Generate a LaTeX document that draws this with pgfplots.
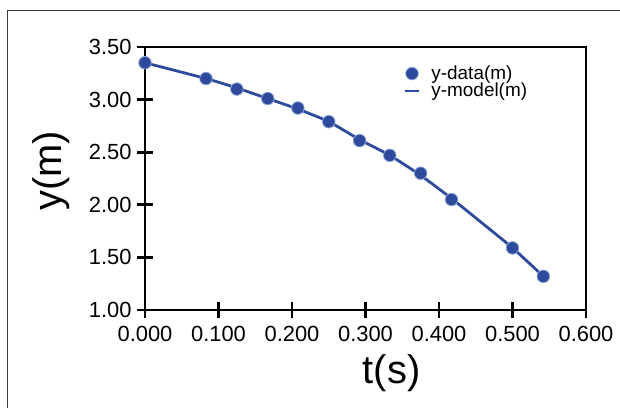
\documentclass[border=0pt]{standalone}
\usepackage{fontspec}
\setmainfont{Liberation Sans}
\usepackage{pgfplots}
\pgfplotsset{compat=1.18}
\definecolor{ptblue}{HTML}{2D4A9C}
\definecolor{ptedge}{HTML}{8FA3D6}
\definecolor{framegrey}{HTML}{3A3A3A}
\pgfplotsset{
  dotlegend/.style={legend image code/.code={\draw[##1] plot coordinates {(0.3cm,0cm)};\path (0.3cm,0cm) ++(17bp,0bp);}},
  dashlegend/.style={legend image code/.code={\draw[##1, line width=2.5bp] (0.06cm,0cm) -- (0.54cm,0cm);\path (0.3cm,0cm) ++(17bp,0bp);}},
}

\begin{document}
\begin{tikzpicture}
\useasboundingbox (0,0) rectangle (620bp,408bp);
% outer frame, cropped at right and bottom
\draw[line width=1bp, framegrey] (7.5bp,0) -- (7.5bp,397.5bp) -- (620bp,397.5bp);
\begin{axis}[
  at={(145bp,98bp)}, anchor=south west,
  scale only axis,
  width=441bp, height=263bp,
  xmin=0, xmax=0.6, ymin=1, ymax=3.5,
  xtick={0,0.1,...,0.6},
  ytick={1,1.5,...,3.5},
  xtick pos=bottom, ytick pos=left,
  tick align=center,
  major tick length=16bp,
  major tick style={line width=2.8bp, black},
  axis line style={line width=2.8bp, black},
  /pgf/number format/assume math mode=true,
  xticklabel style={yshift=-5bp, /pgf/number format/.cd, fixed, fixed zerofill, precision=3},
  yticklabel style={xshift=-2bp, /pgf/number format/.cd, fixed, fixed zerofill, precision=2},
  tick label style={font=\fontsize{22}{22}\selectfont},
  xlabel={t(s)}, ylabel={y(m)},
  label style={font=\fontsize{40}{40}\selectfont},
  xlabel style={at={(axis description cs:0.559,-0.242)}, anchor=center},
  ylabel style={at={(axis description cs:-0.213,0.53)}, anchor=center},
  legend style={draw=none, fill=none, at={(axis description cs:0.58,0.94)}, anchor=north west,
    font=\fontsize{19}{19}\selectfont, row sep=0bp, nodes={inner sep=1bp}},
  legend cell align=left,
  clip=false,
]
\addplot[only marks, mark=*, mark size=6.3bp, mark options={fill=ptblue, draw=ptedge, line width=0.8bp},
  dotlegend] coordinates {
  (0.000, 3.35)
  (0.083, 3.20)
  (0.125, 3.10)
  (0.167, 3.01)
  (0.208, 2.92)
  (0.250, 2.79)
  (0.292, 2.61)
  (0.333, 2.47)
  (0.375, 2.30)
  (0.417, 2.05)
  (0.500, 1.59)
  (0.542, 1.32)
};
\addlegendentry{y-data(m)}
\addplot[ptblue, line width=2.8bp, smooth, tension=0.4, no marks, dashlegend] coordinates {
  (0.000, 3.35)
  (0.083, 3.20)
  (0.125, 3.11)
  (0.167, 3.01)
  (0.208, 2.91)
  (0.250, 2.79)
  (0.292, 2.62)
  (0.333, 2.47)
  (0.375, 2.28)
  (0.417, 2.06)
  (0.458, 1.83)
  (0.500, 1.59)
  (0.542, 1.32)
};
\addlegendentry{y-model(m)}
\end{axis}
\end{tikzpicture}
\end{document}
